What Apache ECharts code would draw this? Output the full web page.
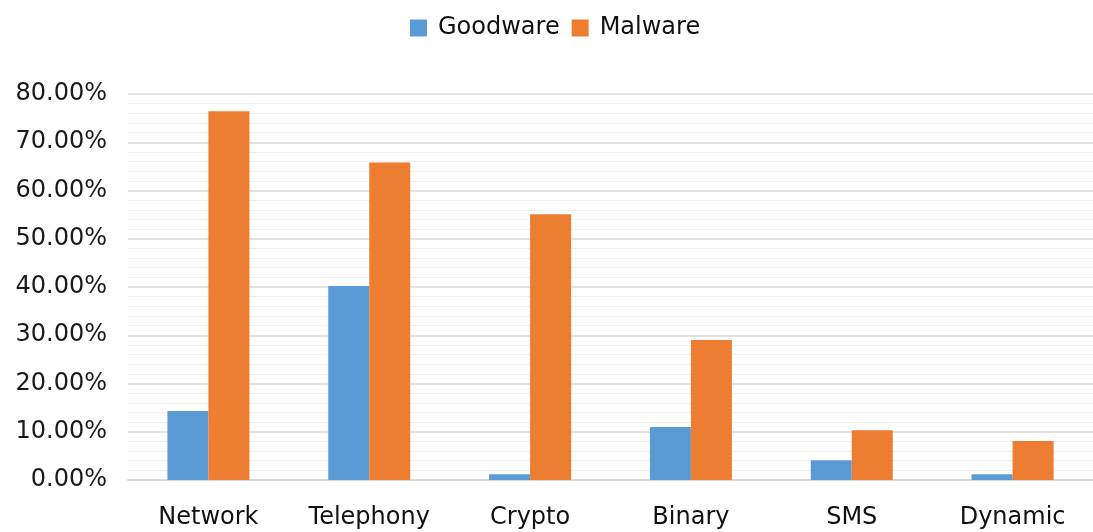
<!DOCTYPE html>
<html><head><meta charset="utf-8">
<script src="https://cdn.jsdelivr.net/npm/echarts@6/dist/echarts.min.js"></script>
<style>html,body{margin:0;padding:0;background:#fff}#c{width:1093px;height:532px}</style>
</head><body><div id="c"></div>
<script>
const categories = ['Network','Telephony','Crypto','Binary','SMS','Dynamic'];
const goodware = [14.3, 40.2, 1.2, 11.0, 4.1, 1.2];
const malware = [76.4, 65.8, 55.1, 29.0, 10.3, 8.1];
const seriesNames = ['Goodware','Malware'];

const chart = echarts.init(document.getElementById('c'));
const font = 'DejaVu Sans, sans-serif';
chart.setOption({
  animation:false,
  textStyle:{fontFamily:font},
  legend:{top:11,left:405,itemWidth:17,itemHeight:17,itemGap:12,icon:'rect',
    textStyle:{fontSize:24,color:'#111',fontFamily:font,padding:[0,0,0,6]}},
  grid:{left:128,width:976,top:94,bottom:52,containLabel:false},
  xAxis:{type:'category',data:categories,
    axisLine:{lineStyle:{color:'#d9d9d9',width:2}},axisTick:{show:false},
    axisLabel:{fontSize:24,color:'#111',margin:26,fontFamily:font}},
  yAxis:{type:'value',min:0,max:80,interval:10,
    axisLine:{show:false},axisTick:{show:false},
    axisLabel:{fontSize:24,color:'#1a1a1a',margin:21,fontFamily:font,formatter:v=>v.toFixed(2)+'%'},
    splitLine:{lineStyle:{color:'#d9d9d9',width:1.5}},
    minorTick:{show:false,splitNumber:5},
    minorSplitLine:{show:true,lineStyle:{color:'#efefef',width:1}}},
  series:[
    {name:seriesNames[0],type:'bar',data:goodware,barWidth:41,barGap:'0%',itemStyle:{color:'#5B9BD5'}},
    {name:seriesNames[1],type:'bar',data:malware,barWidth:41,barGap:'0%',itemStyle:{color:'#ED7D31'}}
  ]
});
</script></body></html>
